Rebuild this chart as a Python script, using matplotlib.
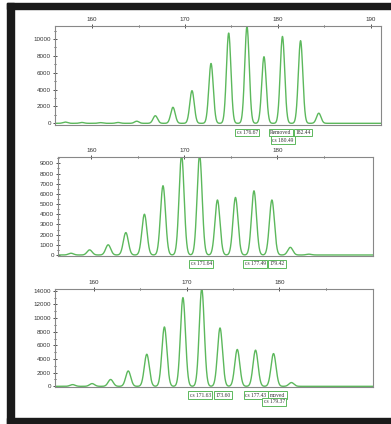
import numpy as np
import matplotlib
matplotlib.use("Agg")
import matplotlib.pyplot as plt
from matplotlib.patches import Rectangle
import matplotlib.transforms as mtransforms

plt.rcParams['font.family'] = ['Liberation Sans', 'DejaVu Sans']

# peak positions (bp) and heights (RFU)
p1_pos = [157.1, 158.9, 160.9, 162.8, 164.8, 166.8, 168.7, 170.75, 172.8, 174.7, 176.67, 178.5, 180.49, 182.44, 184.4]
p1_h = [150, 100, 80, 100, 250, 900, 1900, 3870, 7100, 10700, 11500, 7900, 10300, 9800, 1200]

p2_pos = [157.8, 159.8, 161.8, 163.7, 165.7, 167.7, 169.7, 171.64, 173.56, 175.5, 177.49, 179.42, 181.4, 183.4]
p2_h = [170, 500, 1000, 2200, 4000, 6800, 9800, 9800, 5400, 5650, 6300, 5400, 750, 80]

p3_pos = [157.7, 159.8, 161.8, 163.7, 165.7, 167.6, 169.6, 171.63, 173.60, 175.46, 177.43, 179.37, 181.3]
p3_h = [250, 400, 1000, 2250, 4700, 8700, 13000, 14300, 8550, 5400, 5300, 4800, 550]

# peak call labels: text, x position (bp), row under the axis
lab1 = [("cs 176.67", 176.72, 0), ("Removed", 180.3, 0), ("182.44", 182.7, 0), ("cs 180.49", 180.54, 1)]
lab2 = [("cs 171.64", 171.82, 0), ("cs 177.49", 177.63, 0), ("179.42", 179.97, 0)]
lab3 = [("cs 171.63", 171.48, 0), ("173.60", 173.9, 0), ("cs 177.43", 177.46, 0), ("moved", 179.8, 0), ("cs 179.37", 179.43, 1)]

W, H = 391, 424
fig = plt.figure(figsize=(W / 100, H / 100), dpi=100)
fig.patch.set_facecolor('white')

def box(l, t, r, b):
    return [l / W, 1 - b / H, (r - l) / W, (b - t) / H]

panels = [
    dict(rect=box(55, 26, 381, 125), xlim=(156.0, 191.1), ylim=(-200, 11540),
         pos=p1_pos, h=p1_h, sig=0.24, yt=np.arange(0, 10001, 2000), ym=np.arange(0, 11001, 1000),
         xt=[160, 170, 180, 190], xm=[165, 175, 185], labels=lab1, rows=(-0.075, -0.155)),
    dict(rect=box(58, 157, 373, 256), xlim=(156.4, 190.3), ylim=(-100, 9620),
         pos=p2_pos, h=p2_h, sig=0.27, yt=np.arange(0, 9001, 1000), ym=np.arange(0, 9501, 500),
         xt=[160, 170, 180], xm=[165, 175, 185], labels=lab2, rows=(-0.08, -0.16)),
    dict(rect=box(55, 289, 373, 387), xlim=(155.8, 190.1), ylim=(-100, 14260),
         pos=p3_pos, h=p3_h, sig=0.27, yt=np.arange(0, 14001, 2000), ym=np.arange(0, 14001, 1000),
         xt=[160, 170, 180], xm=[165, 175, 185], labels=lab3, rows=(-0.083, -0.15)),
]

for p in panels:
    ax = fig.add_axes(p['rect'])
    x = np.linspace(p['xlim'][0], p['xlim'][1], 3000)
    y = np.zeros_like(x)
    for c, hh in zip(p['pos'], p['h']):
        y += hh * np.exp(-(x - c) ** 2 / (2 * p['sig'] ** 2))
    ax.plot(x, y, color='#5cb85c', lw=1.0)
    ax.set_xlim(*p['xlim'])
    ax.set_ylim(*p['ylim'])

    ax.xaxis.tick_top()
    ax.set_xticks(p['xt'])
    ax.set_xticks(p['xm'], minor=True)
    ax.set_yticks(p['yt'])
    ax.set_yticks(p['ym'], minor=True)
    ax.tick_params(axis='both', which='both', direction='inout', colors='#333333',
                   labelsize=4.5, width=0.6, pad=1.5)
    ax.tick_params(axis='both', which='major', length=3)
    ax.tick_params(axis='both', which='minor', length=2)
    for s in ax.spines.values():
        s.set_color('#888888')
        s.set_linewidth(0.8)

    trans = mtransforms.blended_transform_factory(ax.transData, ax.transAxes)
    for txt, xp, row in p['labels']:
        ax.text(xp, p['rows'][row], txt, transform=trans, ha='center', va='center',
                fontsize=4, family=['Liberation Serif', 'DejaVu Serif'], color='#333333',
                bbox=dict(boxstyle='square,pad=0.25', fc='white', ec='#5cb85c', lw=0.7),
                clip_on=False)

# black frame around the screenshot
frame = '#1a1a1a'
fig.patches.append(Rectangle((7 / W, 1 - 9 / H), 1, 6 / H, transform=fig.transFigure, color=frame))
fig.patches.append(Rectangle((7 / W, 0), 1, 6 / H, transform=fig.transFigure, color=frame))
fig.patches.append(Rectangle((7 / W, 0), 7 / W, 1 - 3 / H, transform=fig.transFigure, color=frame))

fig.savefig('out.png', dpi=100)
